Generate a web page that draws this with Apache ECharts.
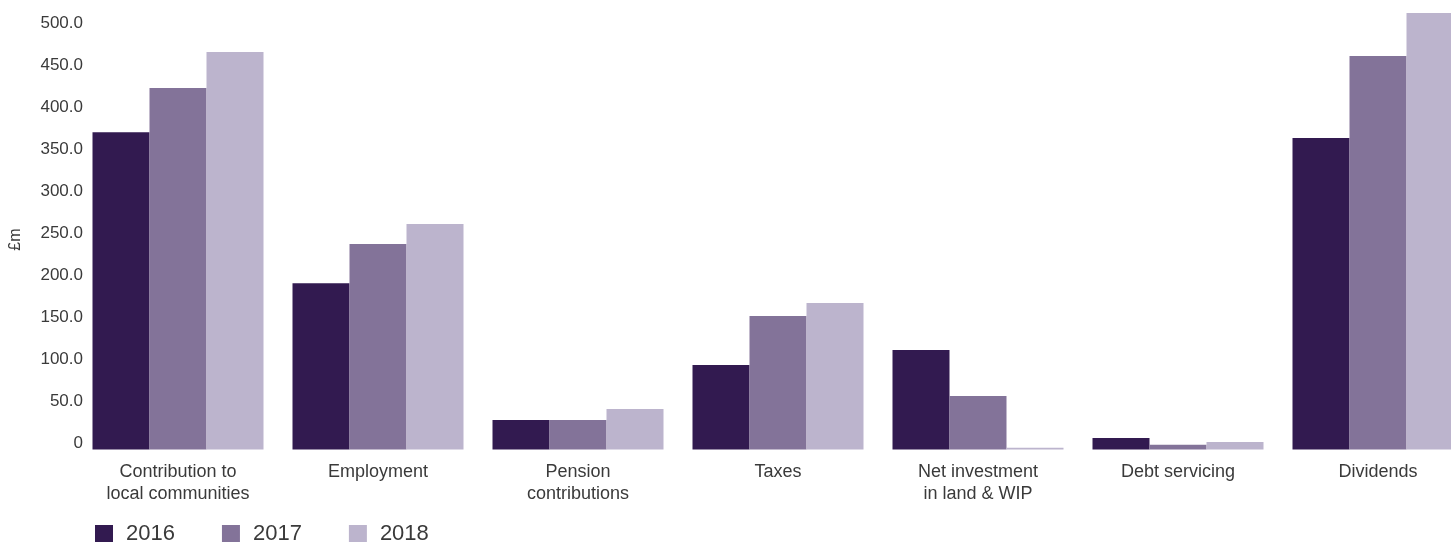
<!DOCTYPE html>
<html>
<head>
<meta charset="utf-8">
<script src="https://cdn.jsdelivr.net/npm/echarts@6/dist/echarts.min.js"></script>
<style>
html,body{margin:0;padding:0;background:#fff;}
#chart{width:1451px;height:542px;}
</style>
</head>
<body>
<div id="chart"></div>
<script>
const categories = ['Contribution to\nlocal communities', 'Employment', 'Pension\ncontributions', 'Taxes', 'Net investment\nin land & WIP', 'Debt servicing', 'Dividends'];
const years = ['2016', '2017', '2018'];
const values2016 = [378, 198, 35, 100.6, 118.5, 13.7, 371];
const values2017 = [430.6, 244.8, 35, 159, 63.7, 5.7, 468.7];
const values2018 = [473.4, 268.6, 48.2, 174.5, 2.1, 8.9, 520];
const yTicks = [0, 50, 100, 150, 200, 250, 300, 350, 400, 450, 500];

const colors = ['#321a50', '#837399', '#bcb4cd'];
const font = 'Liberation Sans, Arial, Helvetica, sans-serif';
const textColor = '#3a3a3a';

const chart = echarts.init(document.getElementById('chart'));
const seriesData = [values2016, values2017, values2018];
chart.setOption({
  animation: false,
  color: colors,
  textStyle: { fontFamily: font, color: textColor },
  grid: { left: 78, top: 29.7, width: 1400, height: 419.8, containLabel: false, outerBoundsMode: 'none' },
  legend: {
    data: years,
    left: 95,
    top: 523,
    padding: 0,
    icon: 'rect',
    itemWidth: 18,
    itemHeight: 18,
    itemGap: 47,
    textStyle: { fontSize: 22, color: textColor, fontFamily: font, padding: [0, 0, 0, 8] }
  },
  xAxis: {
    type: 'category',
    data: categories,
    axisLine: { show: false },
    axisTick: { show: false },
    axisLabel: {
      fontSize: 18,
      color: textColor,
      fontFamily: font,
      lineHeight: 22,
      margin: 12,
      verticalAlign: 'top',
      interval: 0
    }
  },
  yAxis: {
    type: 'value',
    min: yTicks[0],
    max: yTicks[yTicks.length - 1],
    interval: 50,
    name: '£m',
    nameLocation: 'middle',
    nameRotate: 90,
    nameGap: 54,
    nameTextStyle: { fontSize: 16, color: textColor, fontFamily: font },
    axisLine: { show: false },
    axisTick: { show: false },
    splitLine: { show: false },
    axisLabel: {
      fontSize: 17,
      color: textColor,
      fontFamily: font,
      margin: -5,
      verticalAlign: 'bottom',
      lineHeight: 12,
      formatter: v => v === 0 ? '0' : v.toFixed(1)
    }
  },
  series: years.map((y, i) => ({
    name: y,
    type: 'bar',
    data: seriesData[i],
    barWidth: 57,
    barGap: '0%',
    clip: false
  }))
});
</script>
</body>
</html>
